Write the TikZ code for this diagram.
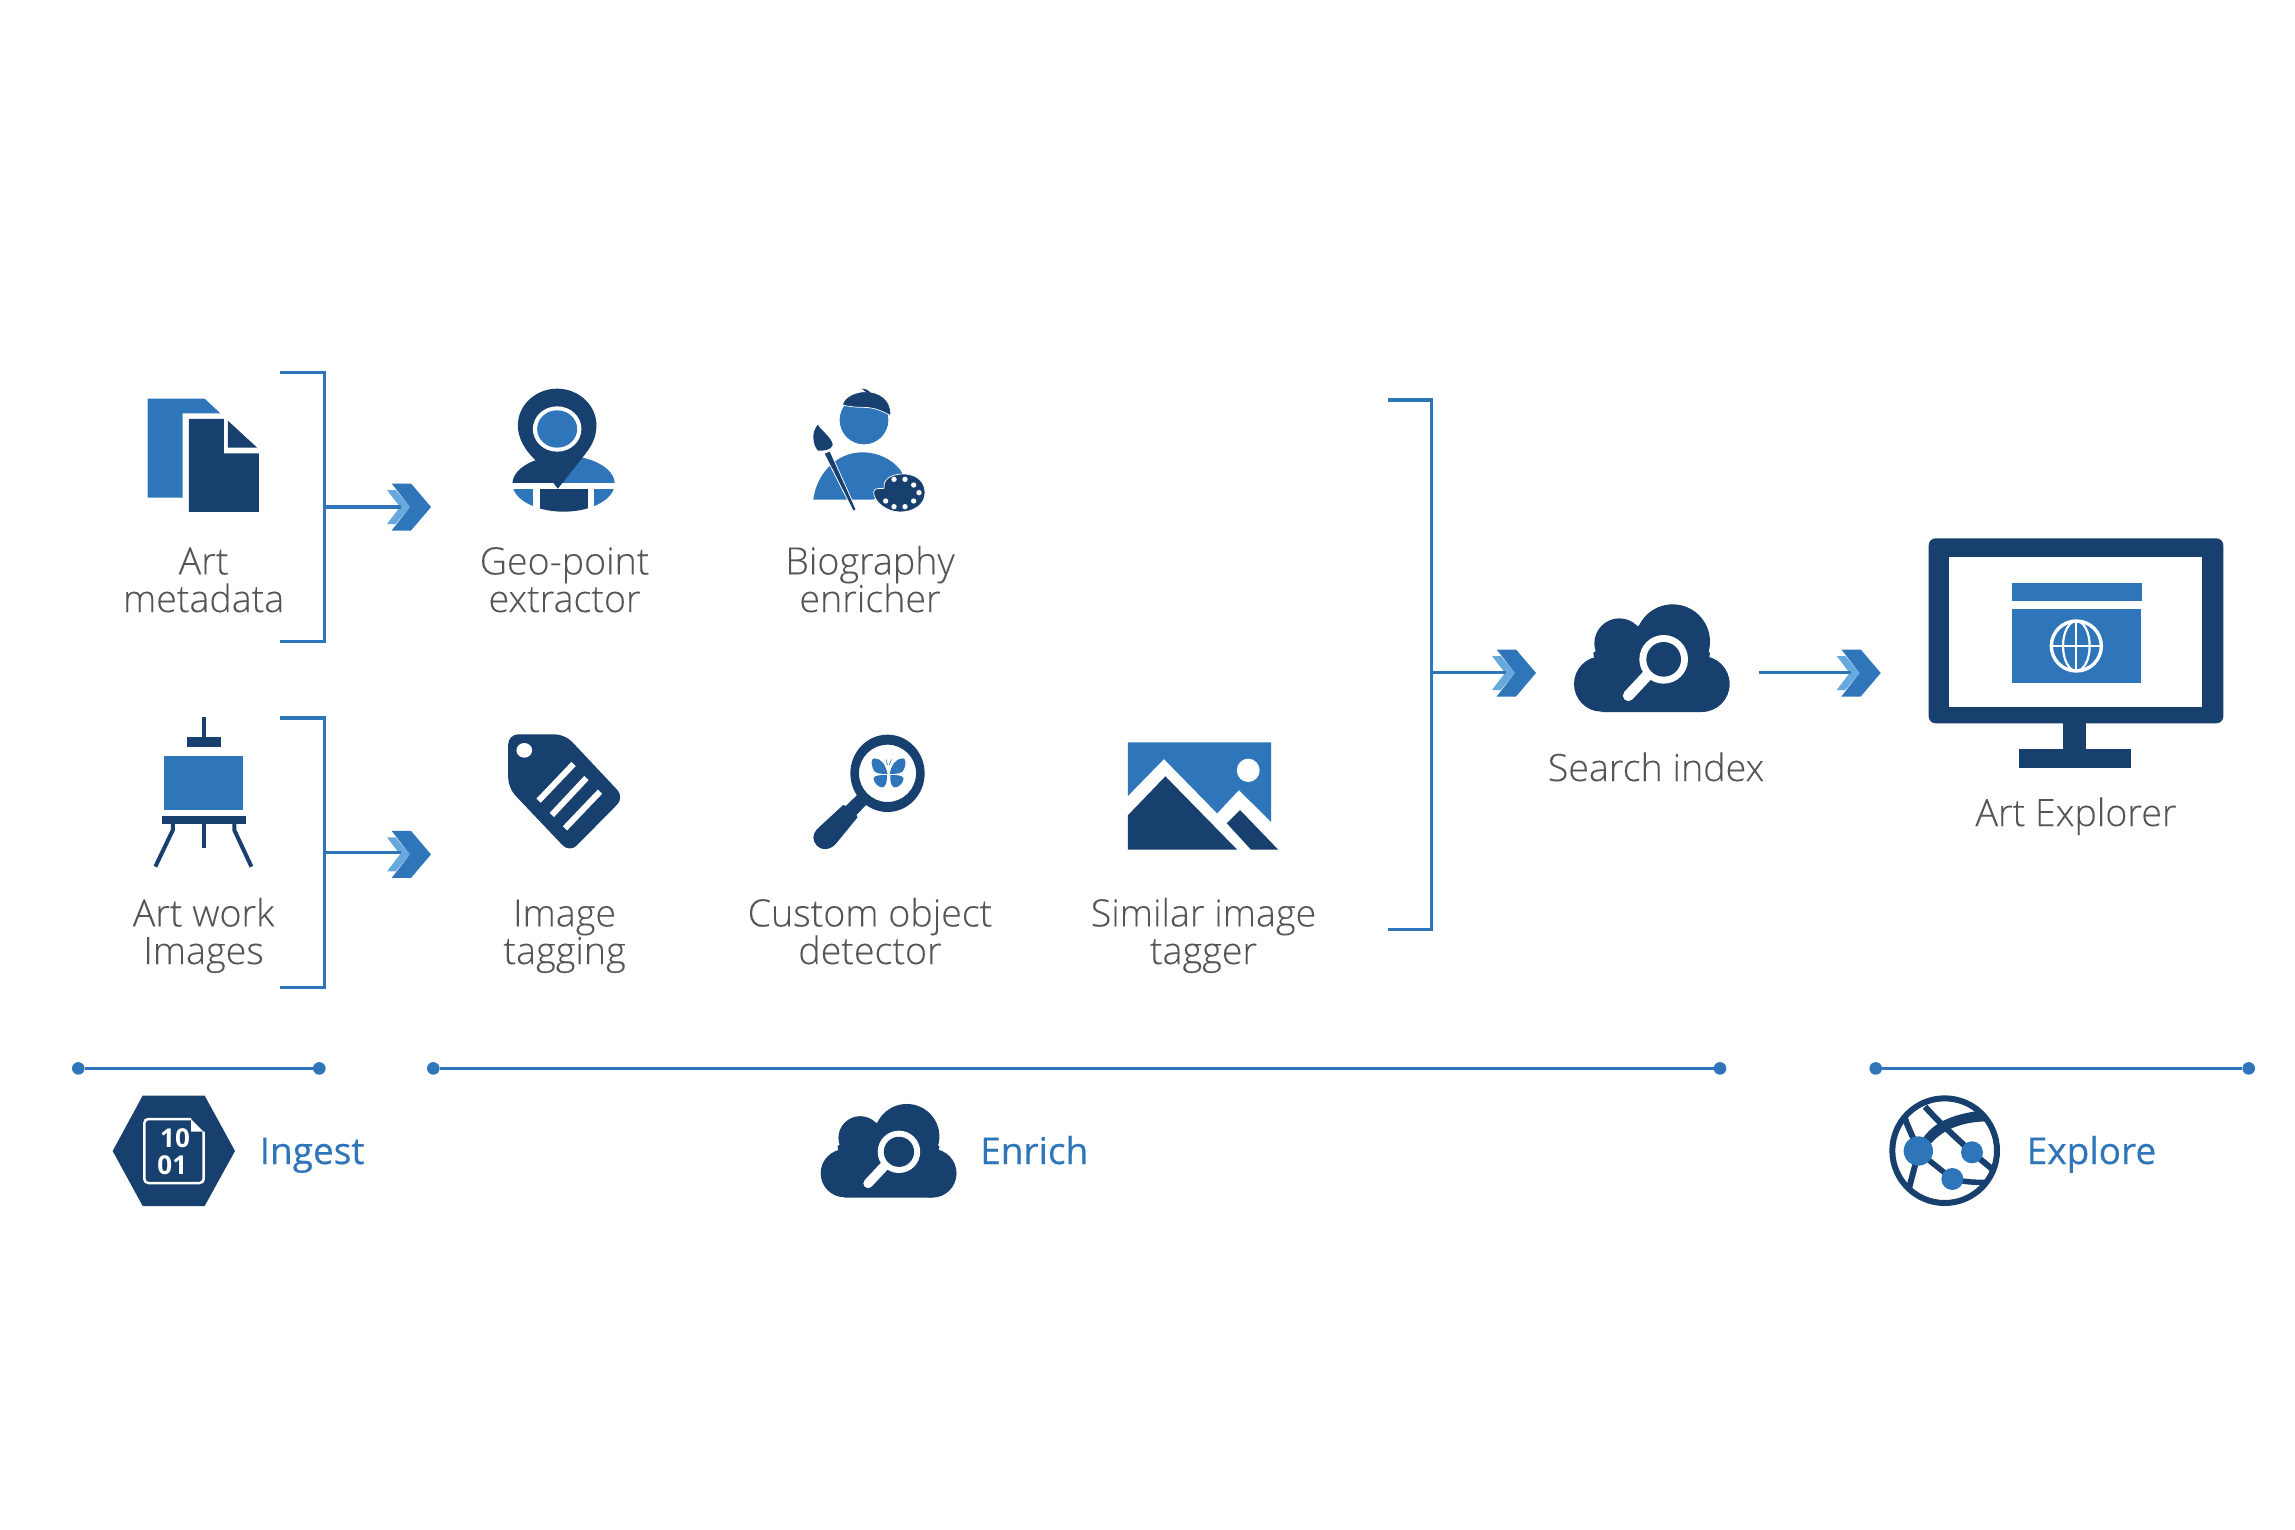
\documentclass[tikz,border=0pt]{standalone}
\usepackage{fontspec}
\setmainfont{Open Sans}[UprightFont=* Light,UprightFeatures={FakeBold=0.12},BoldFont=* Bold]
\newfontfamily\regfont{Open Sans}[FakeBold=0.35]
\definecolor{dk}{HTML}{18406E}
\definecolor{bl}{HTML}{2E75BA}
\definecolor{lt}{HTML}{66A9DD}
\definecolor{txt}{HTML}{555555}
\tikzset{
  zm/.style n args={4}{shift={(#1,#2)},x=#3pt,y=-#4pt},
  dkf/.style={fill=dk},
  blf/.style={fill=bl},
  conn/.style={draw=bl,line width=3.2pt,line cap=butt},
  dotn/.style={circle,fill=bl,inner sep=0pt,minimum size=12.6pt},
  lab/.style={text=txt,align=center,anchor=base,inner sep=0pt,font=\fontsize{37.6}{37.6}\selectfont},
  head/.style={text=bl,anchor=base west,inner sep=0pt,font=\regfont\fontsize{37}{37}\selectfont},
}
\newcommand{\chev}[2]{%
  \begin{scope}[shift={(#1,#2)}]
    \fill[lt] (-21,0) -- (-35.3,-17) -- (-44,-17) -- (-31,0) -- (-44,17) -- (-35.3,17) -- cycle;
    \fill[bl] (0,0) -- (-20,-23.5) -- (-39.3,-23.5) -- (-21,0) -- (-39.3,23.5) -- (-20,23.5) -- cycle;
  \end{scope}}
\newcommand{\cloudicon}[1]{%
  \fill[dk] (665,312) circle (83);
  \fill[dk] (965,312) circle (84);
  \fill[dk] (718,190) circle (75);
  \fill[dk] (878,185) circle (112);
  \fill[dk] (665,396) -- (640,218) -- (775,137) -- (990,218) -- (965,396) -- cycle;
  \draw[white,line width=#1pt,line cap=round] (800,288) -- (745,347);
  \fill[white] (851,238) circle (73);
  \fill[dk] (851,238) circle (52);}
\begin{document}
\begin{tikzpicture}[x=1pt,y=-1pt]
\path[use as bounding box,fill=white] (0,0) rectangle (2295,1530);

% ---------- brackets and connectors
\coordinate (b1a) at (279.6,372.6); \coordinate (b1b) at (324.3,372.6);
\coordinate (b1c) at (324.3,641.6); \coordinate (b1d) at (279.6,641.6);
\coordinate (b2a) at (279.6,718); \coordinate (b2b) at (324.3,718);
\coordinate (b2c) at (324.3,987.4); \coordinate (b2d) at (279.6,987.4);
\coordinate (b3a) at (1388,400); \coordinate (b3b) at (1431.7,400);
\coordinate (b3c) at (1431.7,929.6); \coordinate (b3d) at (1388,929.6);
\draw[conn,line join=miter] (b1a) -- (b1b) -- (b1c) -- (b1d);
\draw[conn,line join=miter] (b2a) -- (b2b) -- (b2c) -- (b2d);
\draw[conn,line join=miter] (b3a) -- (b3b) -- (b3c) -- (b3d);

\chev{431}{507}
\chev{431}{854.4}
\chev{1536}{673}
\chev{1880.7}{673}
\coordinate (s1a) at (324.3,507); \coordinate (s1b) at (401,507);
\coordinate (s2a) at (324.3,852.6);   \coordinate (s2b) at (401,852.6);
\coordinate (s3a) at (1431.7,672.6);\coordinate (s3b) at (1506,672.6);
\coordinate (s4a) at (1759,672.6);  \coordinate (s4b) at (1851,672.6);
\draw[conn] (s1a) -- (s1b);
\draw[conn] (s2a) -- (s2b);
\draw[conn] (s3a) -- (s3b);
\draw[conn] (s4a) -- (s4b);

% ---------- phase rules
\node[dotn] (i1) at (78.3,1068.4) {};   \node[dotn] (i2) at (319.3,1068.4) {};
\node[dotn] (e1) at (433.3,1068.4) {};  \node[dotn] (e2) at (1720,1068.4) {};
\node[dotn] (x1) at (1875.7,1068.4) {}; \node[dotn] (x2) at (2248.7,1068.4) {};
\draw[conn] (i1) -- (i2);
\draw[conn] (e1) -- (e2);
\draw[conn] (x1) -- (x2);

% ---------- document icon
\begin{scope}[zm={100}{350}{0.35714}{0.33333}]
  \fill[bl] (133,146) -- (293,146) -- (337,190) -- (231,190) -- (231,443) -- (133,443) -- cycle;
  \fill[dk] (249,207) -- (347,207) -- (347,310) -- (445,310) -- (445,486) -- (249,486) -- cycle;
  \fill[dk] (358,212) -- (440,293) -- (358,293) -- cycle;
\end{scope}

% ---------- geo-point icon
\begin{scope}[zm={100}{350}{0.35714}{0.33333}]
  \begin{scope}
    \clip (1298,401) ellipse [x radius=143,y radius=84];
    \fill[dk] (1140,310) rectangle (1300,398);
    \fill[bl] (1300,310) rectangle (1450,398);
    \fill[bl] (1140,417) rectangle (1212,490);
    \fill[dk] (1233,417) rectangle (1366,490);
    \fill[bl] (1383,417) rectangle (1450,490);
  \end{scope}
  \fill[dk] (1282,416) -- (1217,328) .. controls (1185,295) and (1170,260) .. (1170,226)
    .. controls (1170,165) and (1220,116) .. (1280,116)
    .. controls (1340,116) and (1390,165) .. (1390,226)
    .. controls (1390,265) and (1375,290) .. (1353,320) -- cycle;
  \fill[white] (1280,237) circle (68);
  \fill[bl] (1280,237) circle (56);
\end{scope}

% ---------- biography icon
\begin{scope}[zm={700}{350}{0.33333}{0.33333}]
  \fill[bl] (340,449) .. controls (350,370) and (410,307) .. (487,307)
    .. controls (540,307) and (590,335) .. (610,375) -- (520,449) -- cycle;
  \fill[bl] (492,210) circle (73);
  \fill[dk,draw=white,line width=0.7pt] (428,165) .. controls (430,140) and (470,125) .. (495,125)
    .. controls (540,125) and (575,150) .. (572,197)
    .. controls (550,185) and (525,172) .. (490,172)
    .. controls (470,172) and (445,170) .. (428,165) -- cycle;
  \fill[dk] (485,116) .. controls (497,116) and (505,120) .. (514,131) -- (500,128) .. controls (495,123) and (490,120) .. (485,116) -- cycle;
  \fill[dk,draw=white,line width=0.8pt] (372,310) -- (390,303) -- (468,478) -- (462,484) -- (458,480) -- cycle;
  \fill[dk] (353,224) .. controls (362,240) and (398,265) .. (398,285)
    .. controls (395,300) and (370,303) .. (355,302)
    .. controls (340,290) and (338,260) .. (342,245)
    .. controls (345,235) and (350,230) .. (353,224) -- cycle;
  \fill[dk,draw=white,line width=0.7pt] (521,425) .. controls (525,410) and (545,418) .. (552,415)
    .. controls (548,395) and (565,372) .. (610,372)
    .. controls (655,372) and (675,400) .. (675,428)
    .. controls (675,465) and (640,486) .. (600,486)
    .. controls (560,486) and (520,455) .. (521,425) -- cycle;
  \foreach \p in {(582,388),(615,388),(641,405),(657,428),(641,453),(615,470),(582,470),(557,453)}
    \fill[white] \p circle (8);
\end{scope}

% ---------- easel icon
\begin{scope}[zm={100}{700}{0.35714}{0.33333}]
  \draw[dk,line width=4.3pt] (292,50) -- (292,112);
  \fill[dk] (243,112) rectangle (338,142);
  \fill[bl] (178,168) rectangle (400,330);
  \fill[dk] (173,347) rectangle (408,371);
  \draw[dk,line width=4.3pt] (292,371) -- (292,443);
  \draw[dk,line width=4pt] (204,371) -- (204,390) -- (155,500);
  \draw[dk,line width=4pt] (376,371) -- (376,390) -- (424,500);
\end{scope}

% ---------- tag icon
\begin{scope}[zm={100}{700}{0.35714}{0.33333}]
  \fill[dk,rounded corners=10pt] (1143,264) -- (1143,103) -- (1302,103) -- (1468,292) -- (1315,458) -- cycle;
  \fill[white] (1188,151) circle (22);
  \draw[white,line width=6pt] (1326,192) -- (1228,302);
  \draw[white,line width=6pt] (1362,234) -- (1265,345);
  \draw[white,line width=6pt] (1400,275) -- (1302,385);
\end{scope}

% ---------- magnifier with butterfly
\begin{scope}[zm={760}{700}{0.35714}{0.33333}]
  \fill[dk,even odd rule] (357,220) ellipse [x radius=104,y radius=116]
    (357,220) ellipse [x radius=80,y radius=86];
  \fill[dk] (272,285) -- (297,315) -- (270,345) -- (273,352) -- (212,432)
    .. controls (195,452) and (165,455) .. (152,425)
    .. controls (145,405) and (155,392) .. (165,382) -- (233,315) -- (240,318) -- cycle;
  \fill[bl] (357,222) .. controls (340,222) and (318,222) .. (316,205)
    .. controls (310,190) and (312,175) .. (320,175)
    .. controls (340,175) and (352,195) .. (357,222) -- cycle;
  \fill[bl] (355,225) .. controls (340,225) and (320,225) .. (318,235)
    .. controls (318,250) and (335,265) .. (345,262)
    .. controls (355,255) and (356,240) .. (355,225) -- cycle;
  \fill[bl] (363,222) .. controls (380,222) and (402,222) .. (404,205)
    .. controls (410,190) and (408,175) .. (400,175)
    .. controls (380,175) and (368,195) .. (363,222) -- cycle;
  \fill[bl] (365,225) .. controls (380,225) and (400,225) .. (402,235)
    .. controls (402,250) and (385,265) .. (375,262)
    .. controls (365,255) and (364,240) .. (365,225) -- cycle;
  \draw[bl,line width=0.6pt] (357,195) -- (353,178) (362,195) -- (368,178);
\end{scope}

% ---------- mountain picture icon
\begin{scope}[zm={760}{700}{0.35714}{0.33333}]
  \fill[bl] (1030,127) -- (1431,127) -- (1431,366) -- (1341,270) -- (1280,340) -- (1131,177) -- (1030,288) -- cycle;
  \fill[white] (1367,211) ellipse [x radius=32,y radius=35];
  \fill[dk] (1135,229) -- (1336,449) -- (1030,449) -- (1030,346) -- cycle;
  \fill[dk] (1344,330) -- (1451,449) -- (1375,449) -- (1307,370) -- cycle;
\end{scope}

% ---------- search cloud
\begin{scope}[zm={1380}{580}{0.33333}{0.33333}]
  \cloudicon{11}
\end{scope}

% ---------- monitor
\begin{scope}[zm={1780}{520}{0.33333}{0.33333}]
  \fill[dk] (850,600) rectangle (918,688);
  \fill[dk] (716,688) rectangle (1054,744);
  \fill[dk,rounded corners=7pt] (446,55) rectangle (1330,610);
  \fill[white] (508,110) rectangle (1266,560);
  \fill[bl] (696,189) rectangle (1085,243);
  \fill[bl] (696,268) rectangle (1084,488);
  \draw[white,line width=3.4pt] (889,378) circle (75);
  \draw[white,line width=2.2pt] (889,378) ellipse [x radius=40,y radius=75];
  \draw[white,line width=2.2pt] (814,378) -- (964,378) (889,303) -- (889,453);
\end{scope}

% ---------- ingest hexagon
\begin{scope}[zm={60}{1050}{0.33333}{0.33333}]
  \fill[dk] (158,303) -- (248,137) -- (434,137) -- (525,303) -- (434,468) -- (248,468) -- cycle;
  \draw[white,line width=2.5pt,rounded corners=4pt] (393,207) -- (253,207) -- (253,399) -- (431,399) -- (431,245);
  \fill[white] (393,207) -- (431,245) -- (393,245) -- cycle;
  \node[text=white,inner sep=0pt,font=\bfseries\fontsize{26}{26}\selectfont] (bin1) at (345,265) {10};
  \node[text=white,inner sep=0pt,font=\bfseries\fontsize{26}{26}\selectfont] (bin2) at (337,345) {01};
\end{scope}

% ---------- enrich cloud
\begin{scope}[zm={651.3}{1082.8}{0.291}{0.29}]
  \cloudicon{9.5}
\end{scope}

% ---------- explore globe
\begin{scope}[zm={1860}{1050}{0.33333}{0.33333}]
  \begin{scope}
    \clip (254,302) circle (157);
    \draw[dk,line width=6pt] (195,170) .. controls (230,210) and (290,265) .. (336,307) -- (400,360);
    \draw[dk,line width=6pt] (135,205) .. controls (150,250) and (175,290) .. (175,305) .. controls (165,350) and (150,400) .. (140,445);
    \draw[dk,line width=5.5pt] (175,305) -- (277,387) .. controls (310,395) and (350,400) .. (400,395);
    \fill[dk] (175,290) .. controls (205,222) and (270,188) .. (400,178) -- (400,214) .. controls (310,212) and (245,237) .. (205,290) -- cycle;
  \end{scope}
  \draw[dk,line width=6pt] (254,302) circle (157);
  \fill[bl] (175,303) circle (44);
  \fill[bl] (336,307) circle (33);
  \fill[bl] (277,387) circle (33);
\end{scope}

% ---------- labels
\node[lab] (l1) at (203.6,612) {Art\\metadata};
\node[lab] (l2) at (564.6,612) {Geo-point\\extractor};
\node[lab] (l3) at (870,612) {Biography\\enricher};
\node[lab] (l4) at (203.6,964) {Art work\\Images};
\node[lab] (l5) at (564.6,964) {Image\\tagging};
\node[lab] (l6) at (870,964) {Custom object\\detector};
\node[lab] (l7) at (1203.5,964) {Similar image\\tagger};
\node[lab] (l8) at (1656,781) {Search index};
\node[lab] (l9) at (2076,826) {Art Explorer};
\node[head] (h1) at (259.5,1164) {Ingest};
\node[head] (h2) at (980,1164) {Enrich};
\node[head] (h3) at (2026.5,1164) {Explore};
\end{tikzpicture}
\end{document}
